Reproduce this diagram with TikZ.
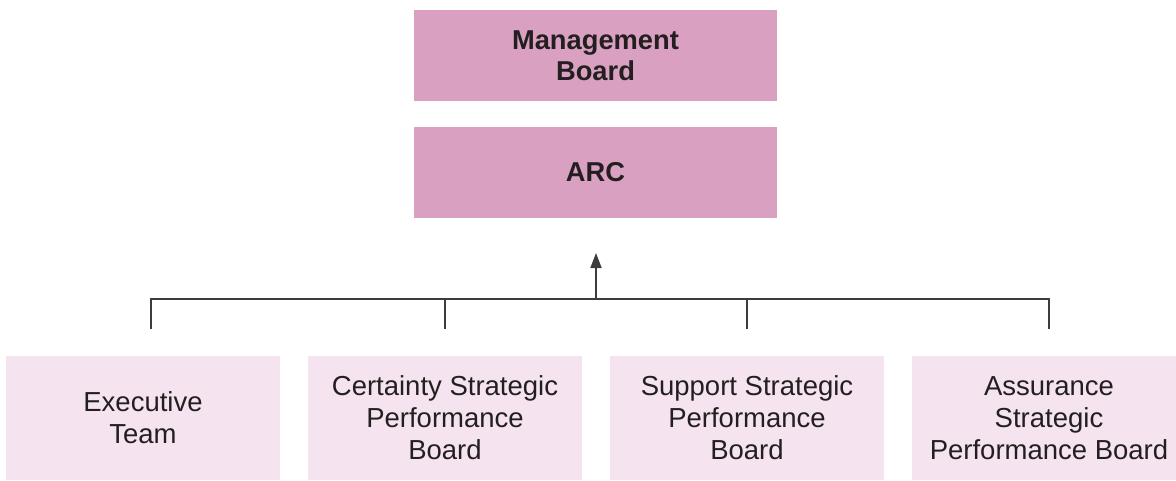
\documentclass[tikz,border=0pt]{standalone}
\usepackage{fontspec}
\setmainfont{Liberation Sans}
\usetikzlibrary{arrows.meta}
\definecolor{boardpink}{HTML}{DAA0C2}
\definecolor{panelpink}{HTML}{F5E4EF}
\definecolor{linegray}{HTML}{3C3C3C}
\definecolor{inkblack}{HTML}{231F20}
\begin{document}
\begin{tikzpicture}[x=1pt,y=-1pt,
  topbox/.style={rectangle, fill=boardpink, inner sep=0pt,
    minimum width=363pt, minimum height=90.5pt, align=center,
    font=\fontsize{27.3}{31}\selectfont\bfseries, text=inkblack},
  subbox/.style={rectangle, fill=panelpink, inner sep=0pt,
    minimum width=274pt, minimum height=124pt, align=center,
    font=\fontsize{27.5}{32}\selectfont, text=inkblack},
  link/.style={draw=linegray, line width=1.7pt},
  uparrow/.style={link, -{Triangle[length=15pt,width=11pt]}}]
\useasboundingbox (0,0) rectangle (1176,480);

% upper tier
\node[topbox] (mb)  at (595.5,55.5)  {Management\\Board};
\node[topbox] (arc) at (595.5,172.5) {ARC};

% lower tier
\node[subbox] (exec) at (143,418)  {Executive\\Team};
\node[subbox] (cert) at (445,418)  {Certainty Strategic\\Performance\\Board};
\node[subbox] (supp) at (747,418)  {Support Strategic\\Performance\\Board};
\node[subbox] (assu) at (1049,418) {Assurance\\Strategic\\Performance Board};

% connector bus
\coordinate (bus) at (596,299);
\coordinate (tip) at (596,253);
\coordinate (d1) at (151,328.5);
\coordinate (d2) at (445,328.5);
\coordinate (d3) at (747,328.5);
\coordinate (d4) at (1049,328.5);

\draw[link] (d1) |- (bus) -| (d4);
\draw[link] (d2) -- (d2 |- bus);
\draw[link] (d3) -- (d3 |- bus);
\draw[uparrow] (bus) -- (tip);
\end{tikzpicture}
\end{document}
